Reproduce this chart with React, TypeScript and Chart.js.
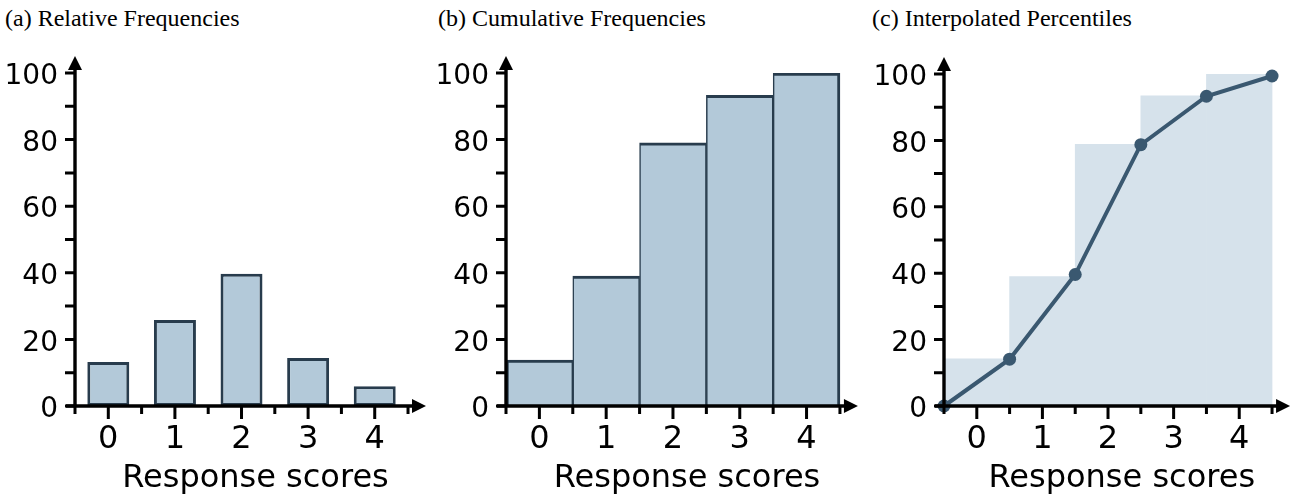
import React, { useEffect, useRef } from 'react';
import { Chart, registerables } from 'chart.js';

Chart.register(...registerables);

// ---------- data ----------
const SCORES = [0, 1, 2, 3, 4];
const X_TICK_LABELS = ['0', '1', '2', '3', '4'];
const X_MINOR_TICKS = [-0.5, 0.5, 1.5, 2.5, 3.5, 4.5];
const Y_TICK_LABELS = [0, 20, 40, 60, 80, 100];
const Y_MINOR_TICKS = [0, 10, 20, 30, 40, 50, 60, 70, 80, 90, 100];

const RELATIVE_FREQ = [13.2, 25.8, 39.7, 14.4, 5.9];
const CUMULATIVE_FREQ = [13.8, 39.0, 79.0, 93.3, 100];
const STEP_FREQ = [14.2, 39.0, 78.8, 93.4, 100];
const PERCENTILE_X = [-0.5, 0.5, 1.5, 2.5, 3.5, 4.5];
const PERCENTILE_Y = [0, 14.1, 39.6, 78.7, 93.3, 99.4];

const PANEL_TITLES = ['(a) Relative Frequencies', '(b) Cumulative Frequencies', '(c) Interpolated Percentiles'];
const X_AXIS_TITLE = 'Response scores';

// ---------- styles ----------
const X_MIN = -0.5;
const X_MAX = 4.92;
const BAR_FILL = '#b3c9d9';
const BAR_EDGE = '#283c4d';
const STEP_FILL = '#d6e2eb';
const LINE_COLOR = '#3a5870';
const SANS = "'DejaVu Sans', sans-serif";

const CANVAS_W = 450;
const CANVAS_H = 500;

const PANELS = [
  { left: 0, axisLeft: 75, top: 73, padRight: 14, titleLeft: 5 },
  { left: 430, axisLeft: 76, top: 73, padRight: 12, titleLeft: 438 },
  { left: 860, axisLeft: 84, top: 74, padRight: 10.4, titleLeft: 872 },
];
const PLOT_BOTTOM = 406;

const arrowAxes = {
  id: 'arrowAxes',
  afterDatasetsDraw(chart: any) {
    const { ctx } = chart;
    const x = chart.scales.x;
    const y = chart.scales.y;
    const x0 = x.getPixelForValue(X_MIN);
    const y0 = y.getPixelForValue(0);
    const xTip = x.getPixelForValue(4.5) + 18;
    const yTip = y.getPixelForValue(100) - 17;
    ctx.save();
    ctx.strokeStyle = '#000';
    ctx.fillStyle = '#000';
    ctx.lineCap = 'butt';
    ctx.lineWidth = 3.4;
    ctx.beginPath();
    ctx.moveTo(x0 - 9, y0);
    ctx.lineTo(xTip - 8, y0);
    ctx.moveTo(x0, y0);
    ctx.lineTo(x0, yTip + 8);
    ctx.stroke();
    // arrow heads
    ctx.beginPath();
    ctx.moveTo(xTip, y0);
    ctx.lineTo(xTip - 14, y0 - 7);
    ctx.lineTo(xTip - 14, y0 + 7);
    ctx.closePath();
    ctx.fill();
    ctx.beginPath();
    ctx.moveTo(x0, yTip);
    ctx.lineTo(x0 - 7, yTip + 14);
    ctx.lineTo(x0 + 7, yTip + 14);
    ctx.closePath();
    ctx.fill();
    // ticks
    ctx.lineWidth = 3;
    ctx.beginPath();
    Y_MINOR_TICKS.forEach((v) => {
      const py = y.getPixelForValue(v);
      ctx.moveTo(x0 - 10, py);
      ctx.lineTo(x0, py);
    });
    X_MINOR_TICKS.forEach((v) => {
      const px = x.getPixelForValue(v);
      ctx.moveTo(px, y0);
      ctx.lineTo(px, y0 + 8);
    });
    SCORES.forEach((v) => {
      const px = x.getPixelForValue(v);
      ctx.moveTo(px, y0);
      ctx.lineTo(px, y0 + 13);
    });
    ctx.stroke();
    ctx.restore();
  },
};

function buildDatasets(kind: number): any[] {
  if (kind === 0) {
    return [
      {
        type: 'bar',
        data: SCORES.map((s, i) => ({ x: s, y: RELATIVE_FREQ[i] })),
        backgroundColor: BAR_FILL,
        borderColor: BAR_EDGE,
        borderWidth: 3,
        borderSkipped: false,
        barPercentage: 0.63,
        categoryPercentage: 1,
      },
    ];
  }
  if (kind === 1) {
    return [
      {
        type: 'bar',
        data: SCORES.map((s, i) => ({ x: s, y: CUMULATIVE_FREQ[i] })),
        backgroundColor: BAR_FILL,
        borderColor: BAR_EDGE,
        borderWidth: (c: any) => ({
          top: 3,
          left: c.dataIndex === 0 ? 3 : 1.5,
          right: c.dataIndex === SCORES.length - 1 ? 3 : 1.5,
          bottom: 0,
        }),
        borderSkipped: false,
        barPercentage: 1,
        categoryPercentage: 1,
      },
    ];
  }
  return [
    {
      type: 'line',
      data: PERCENTILE_X.map((px, i) => ({ x: px, y: PERCENTILE_Y[i] })),
      borderColor: LINE_COLOR,
      backgroundColor: LINE_COLOR,
      borderWidth: 4,
      pointRadius: 6.5,
      pointBorderWidth: 0,
      pointBackgroundColor: LINE_COLOR,
      clip: false,
      order: 0,
    },
    {
      type: 'bar',
      data: SCORES.map((s, i) => ({ x: s, y: STEP_FREQ[i] })),
      backgroundColor: STEP_FILL,
      borderWidth: 0,
      barPercentage: 1,
      categoryPercentage: 1,
      order: 1,
    },
  ];
}

function Panel({ kind }: { kind: number }) {
  const ref = useRef<HTMLCanvasElement | null>(null);
  useEffect(() => {
    if (!ref.current) return;
    const p = PANELS[kind];
    const chart = new Chart(ref.current, {
      type: 'bar',
      data: { datasets: buildDatasets(kind) },
      options: {
        animation: false,
        responsive: false,
        maintainAspectRatio: false,
        events: [],
        layout: { padding: { left: 0, right: p.padRight, top: p.top, bottom: 0 } },
        plugins: {
          legend: { display: false },
          tooltip: { enabled: false },
          title: { display: false },
        },
        scales: {
          x: {
            type: 'linear',
            min: X_MIN,
            max: X_MAX,
            offset: false,
            grid: { display: false, drawTicks: false },
            border: { display: false },
            afterBuildTicks: (s: any) => {
              s.ticks = SCORES.map((v) => ({ value: v }));
            },
            afterFit: (s: any) => {
              s.height = CANVAS_H - PLOT_BOTTOM;
            },
            ticks: {
              autoSkip: false,
              maxRotation: 0,
              padding: 14,
              color: '#000',
              font: { family: SANS, size: 32 },
              callback: (v: any) => X_TICK_LABELS[SCORES.indexOf(Number(v))],
            },
            title: {
              display: true,
              text: X_AXIS_TITLE,
              color: '#000',
              font: { family: SANS, size: 32 },
              padding: { top: 0, bottom: 2 },
            },
          },
          y: {
            type: 'linear',
            min: 0,
            max: 100,
            grid: { display: false, drawTicks: false },
            border: { display: false },
            afterBuildTicks: (s: any) => {
              s.ticks = Y_TICK_LABELS.map((v) => ({ value: v }));
            },
            afterFit: (s: any) => {
              s.width = p.axisLeft;
            },
            ticks: {
              padding: 17,
              labelOffset: 4,
              color: '#000',
              font: { family: SANS, size: 28 },
            },
          },
        },
      } as any,
      plugins: [arrowAxes],
    });
    return () => chart.destroy();
  }, [kind]);
  const p = PANELS[kind];
  return (
    <canvas
      ref={ref}
      width={CANVAS_W}
      height={CANVAS_H}
      style={{ position: 'absolute', left: p.left, top: 0, width: CANVAS_W, height: CANVAS_H }}
    />
  );
}

export default function App() {
  return (
    <div
      style={{
        position: 'fixed',
        left: 0,
        top: 0,
        width: 1290,
        height: 500,
        overflow: 'hidden',
        background: '#fff',
      }}
    >
      {PANEL_TITLES.map((t, i) => (
        <div
          key={t}
          style={{
            position: 'absolute',
            left: PANELS[i].titleLeft,
            top: 6,
            fontFamily: "'Liberation Serif', serif",
            fontSize: 24,
            lineHeight: '24px',
            whiteSpace: 'nowrap',
            color: '#000',
          }}
        >
          {t}
        </div>
      ))}
      {[0, 1, 2].map((k) => (
        <Panel key={k} kind={k} />
      ))}
    </div>
  );
}
